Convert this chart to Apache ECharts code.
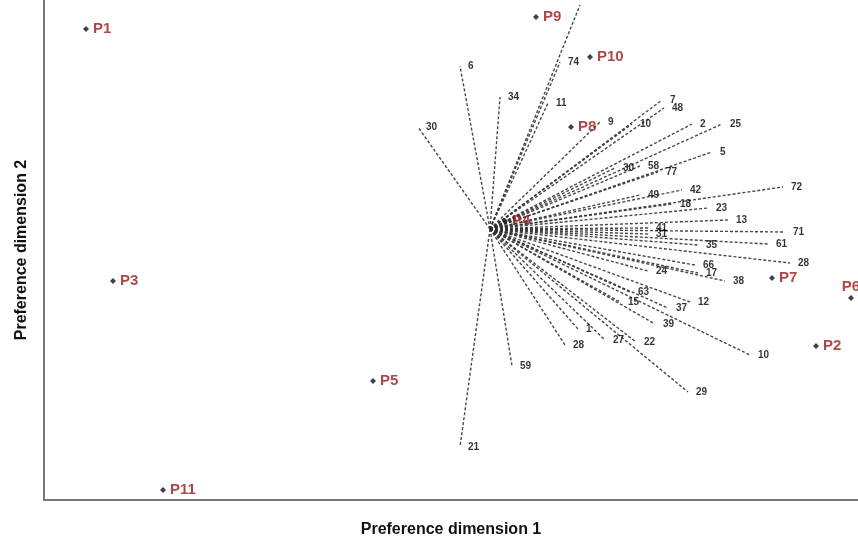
<!DOCTYPE html>
<html>
<head>
<meta charset="utf-8">
<script src="https://cdn.jsdelivr.net/npm/echarts@6/dist/echarts.min.js"></script>
<style>
  html, body { margin: 0; padding: 0; background: #fff; }
  #main { width: 858px; height: 540px; }
</style>
</head>
<body>
<div id="main"></div>
<script>
// preference points (products)
var prefNames = ['P1', 'P2', 'P3', 'P4', 'P5', 'P6', 'P7', 'P8', 'P9', 'P10', 'P11'];
var prefX = [-4.04, 3.26, -3.77, 0.15, -1.17, 3.61, 2.82, 0.81, 0.46, 1.00, -3.27];
var prefY = [2.00, -1.17, -0.52, 0.08, -1.52, -0.69, -0.49, 1.02, 2.12, 1.72, -2.61];

// consumer vectors (end points, all start at origin)
var vecLabels = ['6', '34', '30', '', '74', '11', '9', '10', '7', '48', '2', '25', '5', '30', '58', '77',
  '72', '42', '49', '18', '23', '13', '71', '41', '31', '61', '35', '28', '66', '17', '24', '38',
  '63', '15', '37', '12', '39', '10', '1', '28', '27', '22', '29', '59', '21'];
var vecX = [-0.30, 0.10, -0.72, 0.90, 0.70, 0.58, 1.10, 1.42, 1.72, 1.74, 2.02, 2.32, 2.22, 1.25, 1.50, 1.68,
  2.93, 1.92, 1.50, 1.82, 2.18, 2.38, 2.95, 1.58, 1.58, 2.78, 2.08, 3.00, 2.05, 2.08, 1.58, 2.35,
  1.40, 1.30, 1.78, 2.00, 1.65, 2.60, 0.88, 0.75, 1.15, 1.46, 1.98, 0.22, -0.30];
var vecY = [1.63, 1.32, 1.02, 2.24, 1.67, 1.26, 1.07, 1.05, 1.29, 1.21, 1.05, 1.05, 0.77, 0.61, 0.63, 0.57,
  0.42, 0.39, 0.34, 0.25, 0.21, 0.09, -0.03, 0.01, -0.05, -0.15, -0.16, -0.34, -0.36, -0.44, -0.42, -0.52,
  -0.63, -0.73, -0.79, -0.73, -0.95, -1.26, -1.00, -1.16, -1.11, -1.13, -1.63, -1.37, -2.18];

var vecLines = [];
var vecEnds = [];
for (var i = 0; i < vecLabels.length; i++) {
  vecLines.push({ coords: [[0, 0], [vecX[i], vecY[i]]] });
  vecEnds.push({ name: vecLabels[i], value: [vecX[i], vecY[i]] });
}
var prefData = [];
for (var j = 0; j < prefNames.length; j++) {
  var item = { name: prefNames[j], value: [prefX[j], prefY[j]] };
  if (prefNames[j] === 'P6') item.label = { position: 'top', distance: 1 };
  prefData.push(item);
}

var chart = echarts.init(document.getElementById('main'));
chart.setOption({
  animation: false,
  grid: { left: 44, right: 0, top: 0, bottom: 40, outerBoundsMode: 'none', containLabel: false },
  xAxis: {
    type: 'value', min: -4.46, max: 3.68,
    name: 'Preference dimension 1', nameLocation: 'middle', nameGap: 22,
    nameTextStyle: { fontFamily: 'Liberation Sans', fontWeight: 'bold', fontSize: 16, color: '#111' },
    axisLine: { show: true, onZero: false, lineStyle: { color: '#777', width: 2 } },
    axisTick: { show: false }, axisLabel: { show: false }, splitLine: { show: false }
  },
  yAxis: {
    type: 'value', min: -2.71, max: 2.29,
    name: 'Preference dimension 2', nameLocation: 'middle', nameGap: 14,
    nameTextStyle: { fontFamily: 'Liberation Sans', fontWeight: 'bold', fontSize: 16, color: '#111' },
    axisLine: { show: true, onZero: false, lineStyle: { color: '#777', width: 2 } },
    axisTick: { show: false }, axisLabel: { show: false }, splitLine: { show: false }
  },
  series: [
    {
      type: 'lines',
      coordinateSystem: 'cartesian2d',
      silent: true,
      lineStyle: { color: '#333', width: 1.4, type: [3, 2], opacity: 0.9 },
      data: vecLines
    },
    {
      type: 'scatter',
      symbolSize: 0,
      silent: true,
      label: {
        show: true, position: 'right', distance: 8, formatter: '{b}',
        fontFamily: 'Liberation Sans', fontWeight: 'bold', fontSize: 10, color: '#000'
      },
      data: vecEnds
    },
    {
      type: 'scatter',
      symbol: 'diamond',
      symbolSize: 6,
      itemStyle: { color: '#111' },
      label: {
        show: true, position: 'right', distance: 4, formatter: '{b}',
        fontFamily: 'Liberation Sans', fontWeight: 'bold', fontSize: 15, color: '#981a1a'
      },
      data: prefData
    }
  ]
});
</script>
</body>
</html>
